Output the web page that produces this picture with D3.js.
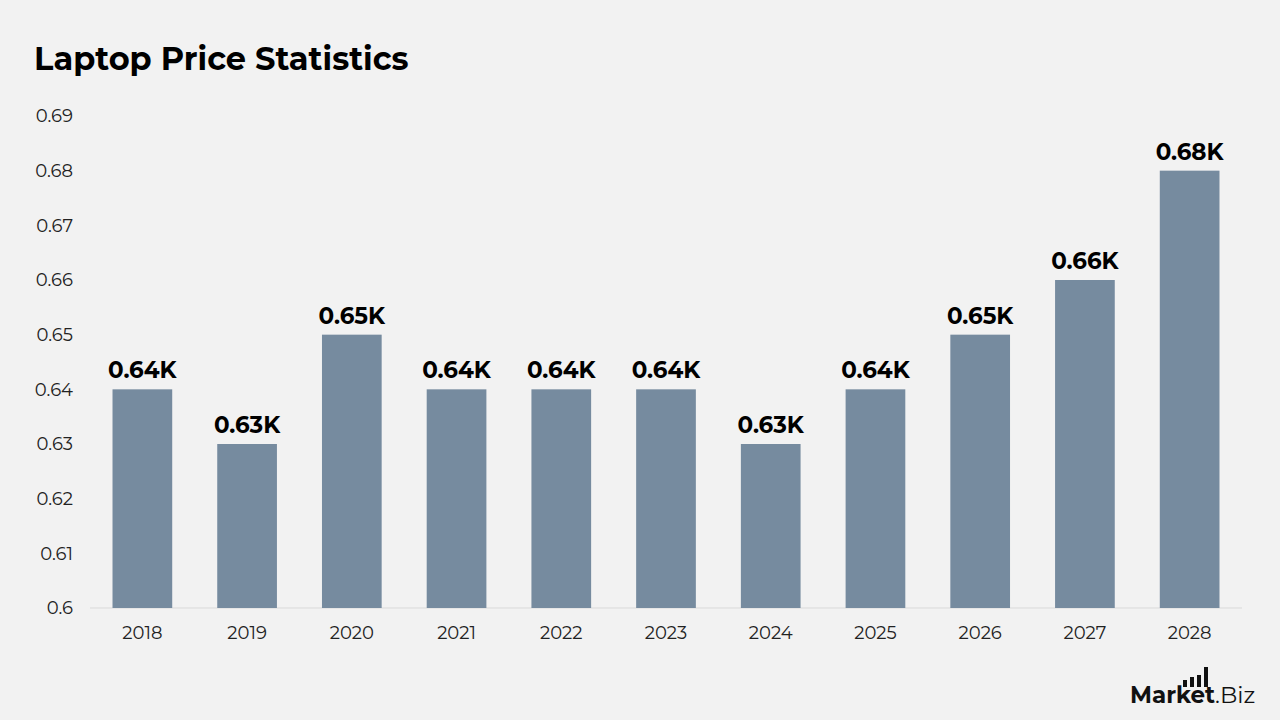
<!DOCTYPE html>
<html>
<head>
<meta charset="utf-8">
<script src="https://cdn.jsdelivr.net/npm/d3@7"></script>
<style>
  body { margin: 0; background: #f2f2f2; }
  svg { display: block; font-family: "Montserrat", "Inter", "Noto Sans", sans-serif; }
</style>
</head>
<body>
<div id="chart"></div>
<script>
const years = ["2018","2019","2020","2021","2022","2023","2024","2025","2026","2027","2028"];
const prices = [0.64, 0.63, 0.65, 0.64, 0.64, 0.64, 0.63, 0.64, 0.65, 0.66, 0.68];
const labels = ["0.64K","0.63K","0.65K","0.64K","0.64K","0.64K","0.63K","0.64K","0.65K","0.66K","0.68K"];
const yTicks = [0.6, 0.61, 0.62, 0.63, 0.64, 0.65, 0.66, 0.67, 0.68, 0.69];

const W = 1280, H = 720;
const margin = {top: 116, right: 38, bottom: 112, left: 90};

const svg = d3.select("#chart").append("svg")
    .attr("width", W)
    .attr("height", H);

svg.append("rect").attr("width", W).attr("height", H).attr("fill", "#f2f2f2");

svg.append("text")
    .attr("x", 34).attr("y", 70)
    .text("Laptop Price Statistics")
    .style("font-size", "32px")
    .style("font-weight", "bold")
    .style("fill", "#000");

const x = d3.scaleBand()
    .domain(years)
    .range([margin.left, W - margin.right])
    .paddingInner(0.43)
    .paddingOuter(0.215);

const y = d3.scaleLinear()
    .domain([0.6, 0.69])
    .range([H - margin.bottom, margin.top]);

// y axis labels
const yAxis = svg.append("g")
    .attr("transform", `translate(${margin.left - 17},0)`)
    .call(d3.axisLeft(y).tickValues(yTicks).tickSize(0).tickPadding(0).tickFormat(d => d3.format("")(+d.toFixed(2))));
yAxis.select(".domain").remove();
yAxis.selectAll("text")
    .style("font-size", "18px")
    .style("font-family", "Montserrat, Inter, 'Noto Sans', sans-serif")
    .style("fill", "#222");

// baseline
svg.append("line")
    .attr("x1", margin.left).attr("x2", W - margin.right)
    .attr("y1", y(0.6)).attr("y2", y(0.6))
    .attr("stroke", "#d9d9d9").attr("stroke-width", 1);

// x axis labels
const xAxis = svg.append("g")
    .attr("transform", `translate(0,${y(0.6)})`)
    .call(d3.axisBottom(x).tickSize(0).tickPadding(18));
xAxis.select(".domain").remove();
xAxis.selectAll("text")
    .style("font-size", "18px")
    .style("font-family", "Montserrat, Inter, 'Noto Sans', sans-serif")
    .style("fill", "#222");

// bars
svg.selectAll("rect.bar")
    .data(years)
    .enter()
    .append("rect")
    .attr("class", "bar")
    .attr("x", d => x(d))
    .attr("y", (d, i) => y(prices[i]))
    .attr("width", x.bandwidth())
    .attr("height", (d, i) => y(0.6) - y(prices[i]))
    .attr("fill", "#768b9f");

// value labels
svg.selectAll("text.val")
    .data(years)
    .enter()
    .append("text")
    .attr("class", "val")
    .attr("x", d => x(d) + x.bandwidth() / 2)
    .attr("y", (d, i) => y(prices[i]) - 11)
    .attr("text-anchor", "middle")
    .text((d, i) => labels[i])
    .style("font-size", "23px")
    .style("font-weight", "bold")
    .style("fill", "#000");

// logo
const logo = svg.append("g").attr("transform", "translate(1130,703)");
logo.append("text")
    .attr("x", 0).attr("y", 0)
    .style("font-size", "23px")
    .style("fill", "#111")
    .html('<tspan font-weight="bold">Market</tspan><tspan font-weight="normal">.Biz</tspan>');
const logoBars = [7, 10, 12, 20];
logo.selectAll("rect")
    .data(logoBars)
    .enter()
    .append("rect")
    .attr("x", (d, i) => 53 + i * 7)
    .attr("y", d => -16 - d)
    .attr("width", 4)
    .attr("height", d => d)
    .attr("fill", "#111");
</script>
</body>
</html>
